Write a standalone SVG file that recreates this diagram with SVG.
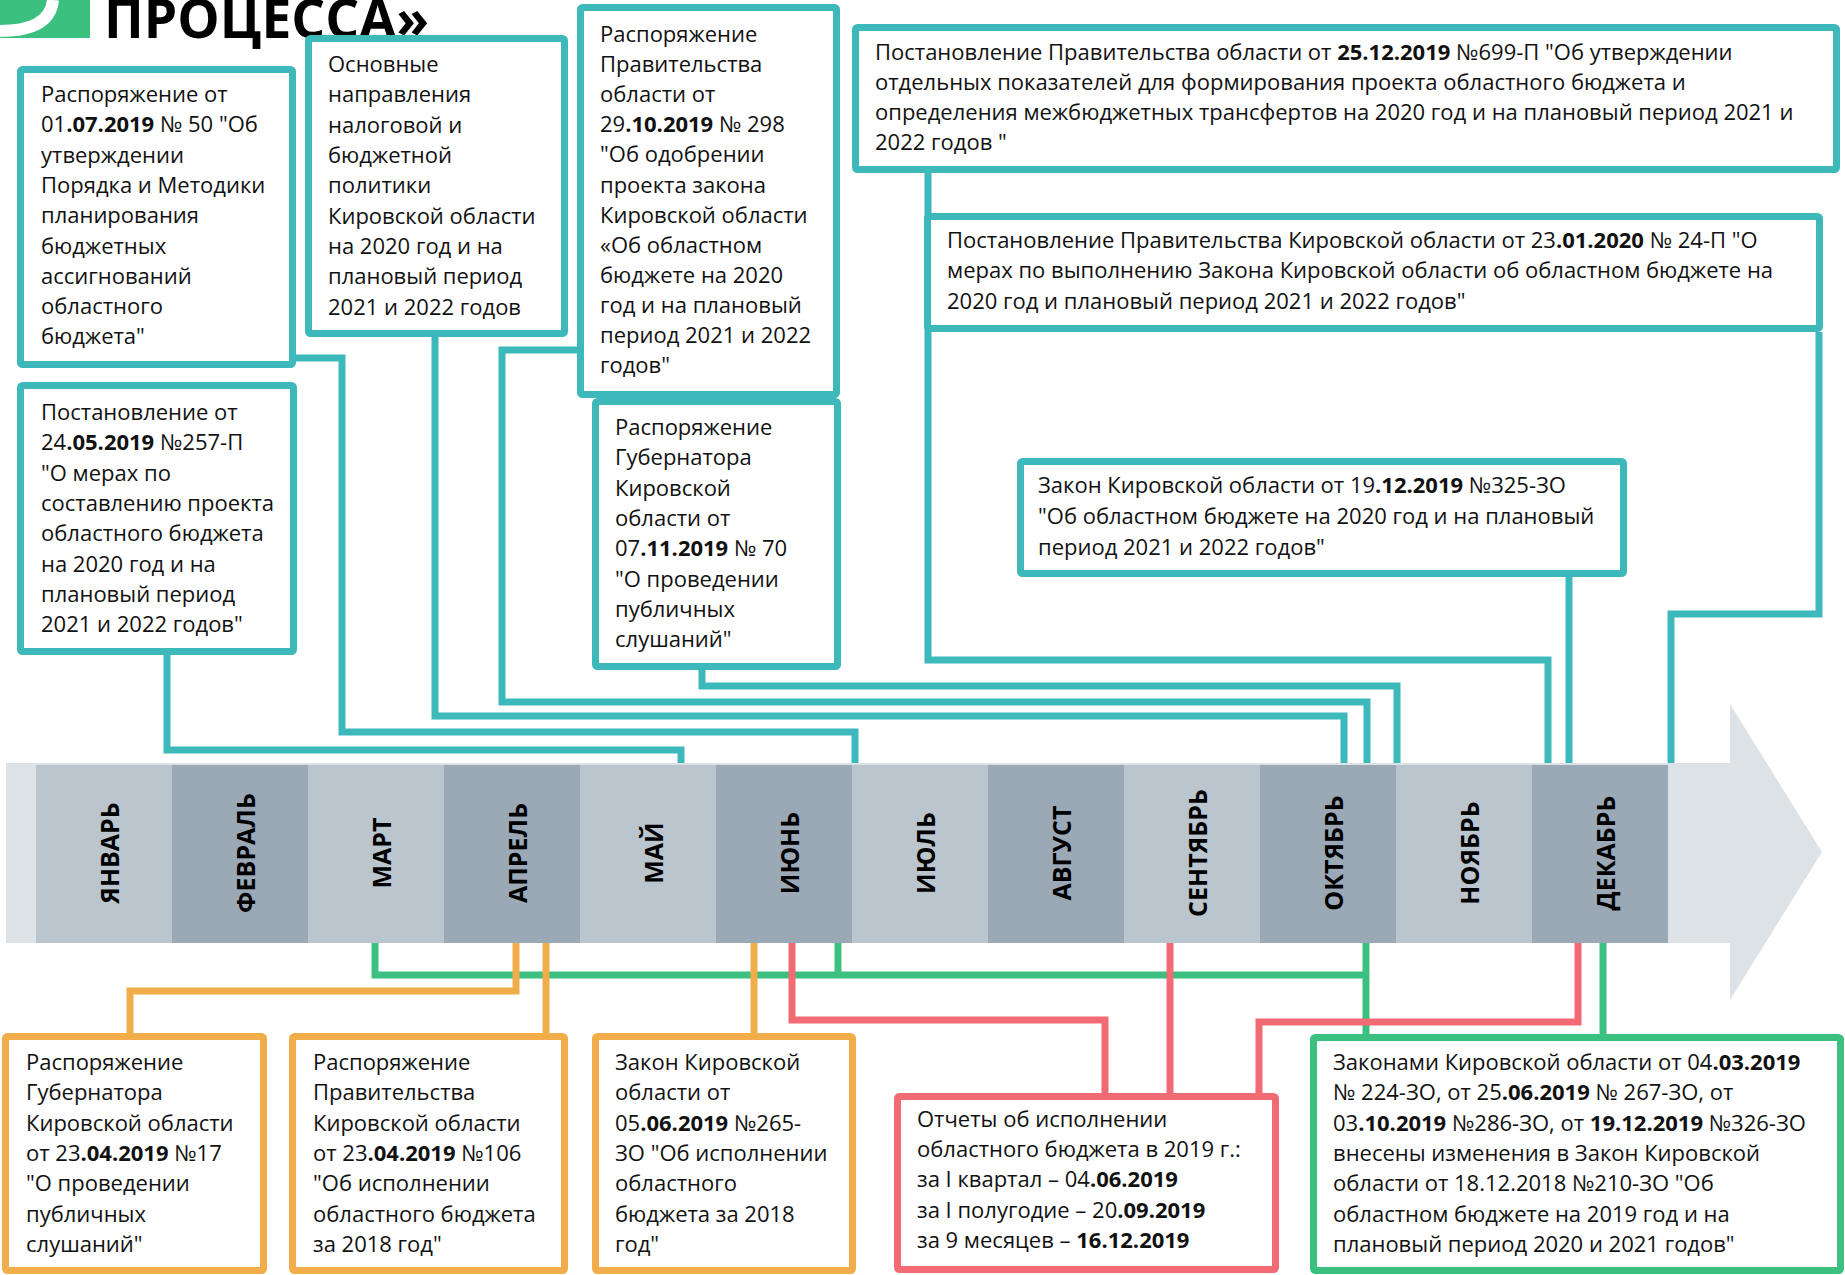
<svg xmlns="http://www.w3.org/2000/svg" width="1845" height="1275" viewBox="0 0 1845 1275">
<style>
.t{font-family:"Open Sans","Liberation Sans",sans-serif;font-size:22px;fill:#111}
.b{font-weight:bold}
.box{fill:#fff;stroke-width:7;stroke-linejoin:round}
.teal{stroke:#3DB8BB}
.orange{stroke:#F2AD4B}
.red{stroke:#F26A73}
.green{stroke:#3CC07F}
.c{fill:none;stroke-width:7}
.m{font-family:"Open Sans","Liberation Sans",sans-serif;font-weight:bold;font-size:25px;text-anchor:middle;fill:#000}
.lt{fill:#BBC5CE}
.dk{fill:#9BA8B5}
</style>
<rect width="1845" height="1275" fill="#fff"/>
<g id="title">
<rect x="0" y="0" width="90" height="38" fill="#3CC07F"/>
<path d="M0,31 Q50,31 53,0" fill="none" stroke="#fff" stroke-width="12"/>
<text x="104" y="38" font-family="Open Sans, Liberation Sans, sans-serif" font-weight="bold" font-size="54" textLength="325" lengthAdjust="spacingAndGlyphs" fill="#000">ПРОЦЕССА»</text>
</g>
<g id="timeline">
<rect x="6" y="763" width="1724" height="180" fill="#DDE2E6"/>
<polygon points="1730,704 1822,852 1730,1000" fill="#DDE2E6"/>
<rect class="lt" x="36" y="765" width="136" height="178"/>
<rect class="dk" x="172" y="765" width="136" height="178"/>
<rect class="lt" x="308" y="765" width="136" height="178"/>
<rect class="dk" x="444" y="765" width="136" height="178"/>
<rect class="lt" x="580" y="765" width="136" height="178"/>
<rect class="dk" x="716" y="765" width="136" height="178"/>
<rect class="lt" x="852" y="765" width="136" height="178"/>
<rect class="dk" x="988" y="765" width="136" height="178"/>
<rect class="lt" x="1124" y="765" width="136" height="178"/>
<rect class="dk" x="1260" y="765" width="136" height="178"/>
<rect class="lt" x="1396" y="765" width="136" height="178"/>
<rect class="dk" x="1532" y="765" width="136" height="178"/>
<text class="m" transform="translate(119,853) rotate(-90)">ЯНВАРЬ</text>
<text class="m" transform="translate(255,853) rotate(-90)">ФЕВРАЛЬ</text>
<text class="m" transform="translate(391,853) rotate(-90)">МАРТ</text>
<text class="m" transform="translate(527,853) rotate(-90)">АПРЕЛЬ</text>
<text class="m" transform="translate(663,853) rotate(-90)">МАЙ</text>
<text class="m" transform="translate(799,853) rotate(-90)">ИЮНЬ</text>
<text class="m" transform="translate(935,853) rotate(-90)">ИЮЛЬ</text>
<text class="m" transform="translate(1071,853) rotate(-90)">АВГУСТ</text>
<text class="m" transform="translate(1207,853) rotate(-90)">СЕНТЯБРЬ</text>
<text class="m" transform="translate(1343,853) rotate(-90)">ОКТЯБРЬ</text>
<text class="m" transform="translate(1479,853) rotate(-90)">НОЯБРЬ</text>
<text class="m" transform="translate(1615,853) rotate(-90)">ДЕКАБРЬ</text>
</g>
<g id="connectors">
<path class="c teal" d="M167,655 V750 H681 V763"/>
<path class="c teal" d="M296,358 H342 V732 H855 V763"/>
<path class="c teal" d="M435,337 V716 H1344 V763"/>
<path class="c teal" d="M577,350 H502 V702 H1367 V763"/>
<path class="c teal" d="M702,670 V686 H1397 V763"/>
<path class="c teal" d="M928,173 V660 H1548 V763"/>
<path class="c teal" d="M1819,332 V614 H1671 V763"/>
<path class="c teal" d="M1569,577 V763"/>
<path class="c green" d="M375,943 V975 H1366"/>
<path class="c green" d="M838,943 V975"/>
<path class="c green" d="M1366,943 V1034"/>
<path class="c green" d="M1603,943 V1034"/>
<path class="c orange" d="M516,943 V991 H130 V1033"/>
<path class="c orange" d="M546,943 V1033"/>
<path class="c orange" d="M754,943 V1033"/>
<path class="c red" d="M792,943 V1020 H1105 V1093"/>
<path class="c red" d="M1170,943 V1093"/>
<path class="c red" d="M1578,943 V1022 H1259 V1093"/>
</g>
<g id="nodeA">
<rect class="box teal" x="20.5" y="69.5" width="272" height="295" rx="2"/>
<text class="t" x="41" y="102">Распоряжение от</text>
<text class="t" x="41" y="132">01<tspan class="b">.07.2019</tspan> № 50 "Об</text>
<text class="t" x="41" y="163">утверждении</text>
<text class="t" x="41" y="193">Порядка и Методики</text>
<text class="t" x="41" y="223">планирования</text>
<text class="t" x="41" y="254">бюджетных</text>
<text class="t" x="41" y="284">ассигнований</text>
<text class="t" x="41" y="314">областного</text>
<text class="t" x="41" y="344">бюджета"</text>
</g>
<g id="nodeB">
<rect class="box teal" x="308.5" y="38.5" width="256" height="295" rx="2"/>
<text class="t" x="328" y="72">Основные</text>
<text class="t" x="328" y="102">направления</text>
<text class="t" x="328" y="133">налоговой и</text>
<text class="t" x="328" y="163">бюджетной</text>
<text class="t" x="328" y="193">политики</text>
<text class="t" x="328" y="224">Кировской области</text>
<text class="t" x="328" y="254">на 2020 год и на</text>
<text class="t" x="328" y="284">плановый период</text>
<text class="t" x="328" y="315">2021 и 2022 годов</text>
</g>
<g id="nodeC">
<rect class="box teal" x="580.5" y="7.5" width="256" height="387" rx="2"/>
<text class="t" x="600" y="42">Распоряжение</text>
<text class="t" x="600" y="72">Правительства</text>
<text class="t" x="600" y="102">области от</text>
<text class="t" x="600" y="132">29<tspan class="b">.10.2019</tspan> № 298</text>
<text class="t" x="600" y="162">"Об одобрении</text>
<text class="t" x="600" y="193">проекта закона</text>
<text class="t" x="600" y="223">Кировской области</text>
<text class="t" x="600" y="253">«Об областном</text>
<text class="t" x="600" y="283">бюджете на 2020</text>
<text class="t" x="600" y="313">год и на плановый</text>
<text class="t" x="600" y="343">период 2021 и 2022</text>
<text class="t" x="600" y="373">годов"</text>
</g>
<g id="nodeD">
<rect class="box teal" x="855.5" y="27.5" width="981" height="142" rx="2"/>
<text class="t" x="875" y="60">Постановление Правительства области от <tspan class="b">25.12.2019</tspan> №699-П "Об утверждении</text>
<text class="t" x="875" y="90">отдельных показателей для формирования проекта областного бюджета и</text>
<text class="t" x="875" y="120">определения межбюджетных трансфертов на 2020 год и на плановый период 2021 и</text>
<text class="t" x="875" y="150">2022 годов "</text>
</g>
<g id="nodeE">
<rect class="box teal" x="927.5" y="216.5" width="892" height="112" rx="2"/>
<text class="t" x="947" y="248">Постановление Правительства Кировской области от 23<tspan class="b">.01.2020</tspan> № 24-П "О</text>
<text class="t" x="947" y="278">мерах по выполнению Закона Кировской области об областном бюджете на</text>
<text class="t" x="947" y="309">2020 год и плановый период 2021 и 2022 годов"</text>
</g>
<g id="nodeF">
<rect class="box teal" x="595.5" y="401.5" width="242" height="265" rx="2"/>
<text class="t" x="615" y="435">Распоряжение</text>
<text class="t" x="615" y="465">Губернатора</text>
<text class="t" x="615" y="496">Кировской</text>
<text class="t" x="615" y="526">области от</text>
<text class="t" x="615" y="556">07<tspan class="b">.11.2019</tspan> № 70</text>
<text class="t" x="615" y="587">"О проведении</text>
<text class="t" x="615" y="617">публичных</text>
<text class="t" x="615" y="647">слушаний"</text>
</g>
<g id="nodeG">
<rect class="box teal" x="20.5" y="385.5" width="273" height="266" rx="2"/>
<text class="t" x="41" y="420">Постановление от</text>
<text class="t" x="41" y="450">24<tspan class="b">.05.2019</tspan> №257-П</text>
<text class="t" x="41" y="481">"О мерах по</text>
<text class="t" x="41" y="511">составлению проекта</text>
<text class="t" x="41" y="541">областного бюджета</text>
<text class="t" x="41" y="572">на 2020 год и на</text>
<text class="t" x="41" y="602">плановый период</text>
<text class="t" x="41" y="632">2021 и 2022 годов"</text>
</g>
<g id="nodeH">
<rect class="box teal" x="1020.5" y="461.5" width="603" height="112" rx="2"/>
<text class="t" x="1038" y="493">Закон Кировской области от 19<tspan class="b">.12.2019</tspan> №325-ЗО</text>
<text class="t" x="1038" y="524">"Об областном бюджете на 2020 год и на плановый</text>
<text class="t" x="1038" y="555">период 2021 и 2022 годов"</text>
</g>
<g id="nodeI">
<rect class="box orange" x="5.5" y="1036.5" width="258" height="234" rx="2"/>
<text class="t" x="26" y="1070">Распоряжение</text>
<text class="t" x="26" y="1100">Губернатора</text>
<text class="t" x="26" y="1131">Кировской области</text>
<text class="t" x="26" y="1161">от 23<tspan class="b">.04.2019</tspan> №17</text>
<text class="t" x="26" y="1191">"О проведении</text>
<text class="t" x="26" y="1222">публичных</text>
<text class="t" x="26" y="1252">слушаний"</text>
</g>
<g id="nodeJ">
<rect class="box orange" x="292.5" y="1036.5" width="272" height="234" rx="2"/>
<text class="t" x="313" y="1070">Распоряжение</text>
<text class="t" x="313" y="1100">Правительства</text>
<text class="t" x="313" y="1131">Кировской области</text>
<text class="t" x="313" y="1161">от 23<tspan class="b">.04.2019</tspan> №106</text>
<text class="t" x="313" y="1191">"Об исполнении</text>
<text class="t" x="313" y="1222">областного бюджета</text>
<text class="t" x="313" y="1252">за 2018 год"</text>
</g>
<g id="nodeK">
<rect class="box orange" x="595.5" y="1036.5" width="257" height="234" rx="2"/>
<text class="t" x="615" y="1070">Закон Кировской</text>
<text class="t" x="615" y="1100">области от</text>
<text class="t" x="615" y="1131">05<tspan class="b">.06.2019</tspan> №265-</text>
<text class="t" x="615" y="1161">ЗО "Об исполнении</text>
<text class="t" x="615" y="1191">областного</text>
<text class="t" x="615" y="1222">бюджета за 2018</text>
<text class="t" x="615" y="1252">год"</text>
</g>
<g id="nodeL">
<rect class="box red" x="897.5" y="1096.5" width="378" height="173" rx="2"/>
<text class="t" x="917" y="1127">Отчеты об исполнении</text>
<text class="t" x="917" y="1157">областного бюджета в 2019 г.:</text>
<text class="t" x="917" y="1187">за I квартал – 04<tspan class="b">.06.2019</tspan></text>
<text class="t" x="917" y="1218">за I полугодие – 20<tspan class="b">.09.2019</tspan></text>
<text class="t" x="917" y="1248">за 9 месяцев – <tspan class="b">16.12.2019</tspan></text>
</g>
<g id="nodeM">
<rect class="box green" x="1313.5" y="1037.5" width="527" height="233" rx="2"/>
<text class="t" x="1333" y="1070">Законами Кировской области от 04<tspan class="b">.03.2019</tspan></text>
<text class="t" x="1333" y="1100">№ 224-ЗО, от 25<tspan class="b">.06.2019</tspan> № 267-ЗО, от</text>
<text class="t" x="1333" y="1131">03<tspan class="b">.10.2019</tspan> №286-ЗО, от <tspan class="b">19.12.2019</tspan> №326-ЗО</text>
<text class="t" x="1333" y="1161">внесены изменения в Закон Кировской</text>
<text class="t" x="1333" y="1191">области от 18.12.2018 №210-ЗО "Об</text>
<text class="t" x="1333" y="1222">областном бюджете на 2019 год и на</text>
<text class="t" x="1333" y="1252">плановый период 2020 и 2021 годов"</text>
</g>
</svg>
